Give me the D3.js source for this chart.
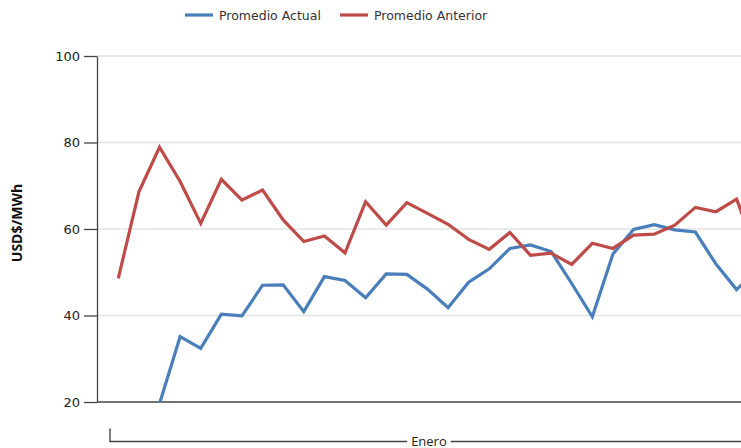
<!DOCTYPE html>
<html>
<head>
<meta charset="utf-8">
<script src="https://cdn.jsdelivr.net/npm/d3@7"></script>
<style>
  html, body { margin: 0; padding: 0; background: #fff; overflow: hidden; }
  svg { display: block; }
</style>
</head>
<body>
<svg id="chart" width="741" height="448"></svg>
<script>
// ---- Data ----
const months = ["Enero"];
const days = ["1","2","3","4","5","6","7","8","9","10","11","12","13","14","15","16",
              "17","18","19","20","21","22","23","24","25","26","27","28","29","30","31","1"];
const dayMonth = days.map((d, i) => i < 31 ? "Enero" : "Febrero");
const seriesNames = ["Promedio Actual", "Promedio Anterior"];
const promedioActual = [12, 15, 19.6, 35.1, 32.4, 40.3, 39.9, 47.0, 47.1, 40.9, 49.0, 48.1,
                        44.1, 49.6, 49.5, 46.1, 41.8, 47.7, 50.8, 55.5, 56.3, 54.8, 47.4, 39.7,
                        54.2, 59.9, 61.0, 59.8, 59.3, 51.9, 46.0, 50.5];
const promedioAnterior = [48.6, 68.6, 78.9, 71.0, 61.3, 71.5, 66.7, 69.0, 62.1, 57.1, 58.4, 54.5,
                          66.3, 60.9, 66.1, 63.6, 61.1, 57.6, 55.3, 59.2, 53.9, 54.4, 51.8, 56.7,
                          55.5, 58.6, 58.8, 60.9, 65.0, 64.0, 66.9, 54.2];
const yTicks = [20, 40, 60, 80, 100];
const yTitle = "USD$/MWh";
const colors = ["#4a7ebb", "#be4b48"];

// ---- Layout ----
const svg = d3.select("#chart");
const plotLeft = 97, plotTop = 56, plotBottom = 402;
const step = 20.61;
const firstX = 118.3;
const bandStart = firstX - step / 2;

const x = d3.scaleBand()
  .domain(days.map((d, i) => i))
  .range([bandStart, bandStart + step * days.length])
  .padding(0);
const xc = i => x(i) + x.bandwidth() / 2;

const y = d3.scaleLinear().domain([20, 100]).range([plotBottom, plotTop]);

// clip
svg.append("defs").append("clipPath").attr("id", "plotclip")
  .append("rect").attr("x", plotLeft).attr("y", plotTop - 5)
  .attr("width", 2000).attr("height", plotBottom - plotTop + 5);

// gridlines
svg.append("g").selectAll("line").data(yTicks.filter(t => t !== 20)).join("line")
  .attr("x1", plotLeft).attr("x2", 2000)
  .attr("y1", d => y(d)).attr("y2", d => y(d))
  .attr("stroke", "#e3e3e3").attr("stroke-width", 1.5);

// y axis
const yAxis = d3.axisLeft(y).tickValues(yTicks).tickSize(13).tickPadding(4).tickSizeOuter(0);
const gy = svg.append("g").attr("transform", `translate(${plotLeft},0)`).call(yAxis);
gy.select(".domain").attr("stroke", "#444").attr("stroke-width", 1.3);
gy.selectAll(".tick line").attr("stroke", "#444").attr("stroke-width", 1.3);
gy.selectAll(".tick text").attr("fill", "#222")
  .style("font-family", "'DejaVu Sans', sans-serif").style("font-size", "13px");

// x axis baseline
svg.append("line").attr("x1", plotLeft).attr("x2", 2000)
  .attr("y1", plotBottom).attr("y2", plotBottom)
  .attr("stroke", "#444").attr("stroke-width", 1.3);

// lines
const line = d3.line().x((d, i) => xc(i)).y(d => y(d));
const gl = svg.append("g").attr("clip-path", "url(#plotclip)");
[promedioActual, promedioAnterior].forEach((vals, k) => {
  gl.append("path").datum(vals).attr("d", line)
    .attr("fill", "none").attr("stroke", colors[k]).attr("stroke-width", 3.2)
    .attr("stroke-linejoin", "miter");
});

// month group bracket
const bracketY = 441.5;
months.forEach(m => {
  const idx = dayMonth.map((v, i) => v === m ? i : -1).filter(i => i >= 0);
  const x0 = x(idx[0]) + 2;
  const x1 = x(idx[idx.length - 1]) + x.bandwidth();
  const cx = (x0 + x1) / 2 + 0.5;
  const g = svg.append("g");
  const t = g.append("text").attr("x", cx).attr("y", bracketY + 4)
    .attr("text-anchor", "middle").attr("fill", "#222")
    .style("font-family", "'Open Sans', sans-serif").style("font-size", "13px")
    .text(m);
  const w = t.node().getComputedTextLength();
  g.append("path")
    .attr("d", `M${x0},${bracketY - 13}V${bracketY}H${cx - w / 2 - 4}M${cx + w / 2 + 4},${bracketY}H${x1}`)
    .attr("fill", "none").attr("stroke", "#444").attr("stroke-width", 1.4);
});

// y title
svg.append("text")
  .attr("transform", `translate(22,${(plotTop + plotBottom) / 2 - 6}) rotate(-90)`)
  .attr("text-anchor", "middle").attr("fill", "#111")
  .style("font-family", "'Open Sans', sans-serif").style("font-size", "14px").style("font-weight", "bold")
  .text(yTitle);

// legend
const legendItems = [{x: 185}, {x: 340}];
seriesNames.forEach((name, k) => {
  const lx = legendItems[k].x;
  svg.append("line").attr("x1", lx).attr("x2", lx + 28).attr("y1", 15).attr("y2", 15)
    .attr("stroke", colors[k]).attr("stroke-width", 3.2);
  svg.append("text").attr("x", lx + 34).attr("y", 19.5).attr("fill", "#333")
    .style("font-family", "'DejaVu Sans', sans-serif").style("font-size", "12.5px")
    .text(name);
});
</script>
</body>
</html>
